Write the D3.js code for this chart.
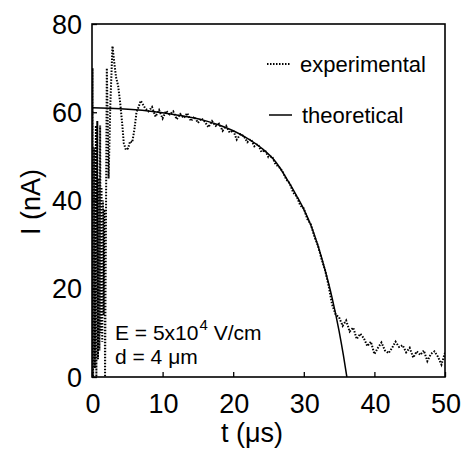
<!DOCTYPE html>
<html>
<head>
<meta charset="utf-8">
<script src="https://cdn.jsdelivr.net/npm/d3@7"></script>
<style>
  html, body { margin: 0; padding: 0; background: #fff; }
  svg text { font-family: "Liberation Sans", Arial, sans-serif; fill: #000; }
</style>
</head>
<body>
<svg id="chart" width="465" height="452"></svg>
<script>
// tick labels
const xTicks = [0, 10, 20, 30, 40, 50];
const yTicks = [0, 20, 40, 60, 80];

// theoretical transient current, t in µs, I in nA
const tTheory = [0, 4, 8, 12, 16, 18, 20, 22, 24, 26, 28, 29, 30, 31, 32, 33, 34, 35, 35.6, 36.1];
const iTheory = [61, 60.8, 60.3, 59.4, 58.1, 57.1, 55.8, 54.1, 51.9, 48.8, 43.8, 41, 38, 34.4, 29.8, 24.3, 18, 10.4, 5, 0];

// experimental trace
const tExp = [
  0, 0.08, 0.16, 0.3, 0.4, 0.55, 0.62, 0.75, 0.85, 0.95, 1.05, 1.15, 1.25, 1.35, 1.45, 1.55, 1.65, 1.75, 1.85,
  2.1, 2.35, 2.6, 2.9, 3.1, 3.4, 3.7, 4.0, 4.3, 4.5, 4.8, 5.1, 5.4, 5.7, 6.0, 6.3, 6.6, 6.9, 7.2,
  7.5, 8, 8.5, 9, 9.5, 10, 10.5, 11, 11.5, 12, 12.5, 13, 13.5, 14, 14.5, 15, 15.5, 16, 16.5, 17, 17.5,
  18, 18.5, 19, 19.5, 20, 20.5, 21, 21.5, 22, 22.5, 23, 23.5, 24, 24.5, 25, 25.5, 26, 26.5, 27, 27.5,
  28, 28.5, 29, 29.5, 30, 30.5, 31, 31.5, 32, 32.5, 33, 33.5, 34,
  34.5, 35, 35.5, 36, 36.5, 37, 37.5, 38, 38.5, 39, 39.5, 40, 40.5, 41, 41.5, 42, 42.5, 43, 43.5,
  44, 44.5, 45, 45.5, 46, 46.5, 47, 47.5, 48, 48.5, 49, 49.5, 50
];
const iExp = [
  0, 70, 0, 52, 2, 57, 0, 58, 4, 45, 6, 57, 10, 43, 8, 40, 14, 38, 0,
  70, 45, 62, 75, 72, 68, 66, 62, 57, 53, 51.5, 51.8, 53.4, 53.2, 56, 60, 61.2, 62.6, 61.8,
  61.0, 60.2, 61.2, 59.0, 60.5, 58.6, 60.3, 59.5, 60.2, 58.4, 59.6, 58.7, 59.8, 58.0, 59.0, 57.6, 58.6, 57.8, 56.6, 58.0, 56.9,
  57.4, 55.8, 56.9, 55.4, 55.9, 53.8, 55.0, 54.6, 53.2, 53.9, 52.3, 52.8, 51.0, 51.4, 49.8, 50.0, 48.2, 47.6, 46.6, 44.8,
  43.9, 41.8, 40.9, 38.9, 38.2, 35.8, 34.6, 31.8, 29.8, 26.8, 24.3, 20.8, 16.5,
  14.2, 13.5, 11.6, 12.8, 10.3, 11.2, 8.6, 9.8, 8.8, 7.0, 8.0, 5.2, 6.6, 7.8, 6.0, 5.4, 6.6, 8.0, 6.8,
  7.2, 5.6, 6.6, 4.4, 5.8, 5.0, 6.0, 3.6, 5.2, 5.8, 4.6, 2.8, 5.5
];

const svg = d3.select('#chart');
const x = d3.scaleLinear().domain([0, 50]).range([92, 445]);
const y = d3.scaleLinear().domain([0, 80]).range([377, 24]);

svg.append('defs').append('clipPath').attr('id', 'plot-clip')
  .append('rect')
  .attr('x', x(0)).attr('y', y(80))
  .attr('width', x(50) - x(0)).attr('height', y(0) - y(80));

const line = d3.line().x(d => x(d[0])).y(d => y(d[1]));
const expData = tExp.map((t, i) => [t, iExp[i]]);
const theoryData = tTheory.map((t, i) => [t, iTheory[i]]);

const plot = svg.append('g').attr('clip-path', 'url(#plot-clip)');

plot.append('path')
  .datum(expData)
  .attr('d', line)
  .attr('fill', 'none')
  .attr('stroke', '#000')
  .attr('stroke-width', 2)
  .attr('stroke-dasharray', '1.5,1.5');

plot.append('path')
  .datum(theoryData)
  .attr('d', line.curve(d3.curveMonotoneX))
  .attr('fill', 'none')
  .attr('stroke', '#000')
  .attr('stroke-width', 1.5);

// frame
svg.append('rect')
  .attr('x', x(0)).attr('y', y(80))
  .attr('width', x(50) - x(0)).attr('height', y(0) - y(80))
  .attr('fill', 'none')
  .attr('stroke', '#000')
  .attr('stroke-width', 1.6);

// inward ticks
const xAxis = svg.append('g')
  .attr('transform', `translate(0,${y(0)})`)
  .call(d3.axisTop(x).tickValues(xTicks).tickSize(5).tickFormat(''));
xAxis.select('.domain').remove();
xAxis.selectAll('line').attr('stroke-width', 1.3);

const yAxis = svg.append('g')
  .attr('transform', `translate(${x(0)},0)`)
  .call(d3.axisRight(y).tickValues(yTicks).tickSize(5).tickFormat(''));
yAxis.select('.domain').remove();
yAxis.selectAll('line').attr('stroke-width', 1.3);

// tick labels
svg.append('g').selectAll('text')
  .data(xTicks)
  .join('text')
  .attr('x', d => x(d) + 1)
  .attr('y', 413)
  .attr('text-anchor', 'middle')
  .style('font-size', '27px')
  .text(d => d);

svg.append('g').selectAll('text')
  .data(yTicks)
  .join('text')
  .attr('x', 82)
  .attr('y', d => y(d))
  .attr('dy', '0.36em')
  .attr('text-anchor', 'end')
  .style('font-size', '27px')
  .text(d => d);

// axis titles
svg.append('text')
  .attr('x', 252)
  .attr('y', 442)
  .attr('text-anchor', 'middle')
  .style('font-size', '27px')
  .text('t (μs)');

svg.append('text')
  .attr('transform', 'translate(40,202) rotate(-90)')
  .attr('text-anchor', 'middle')
  .style('font-size', '27px')
  .text('I (nA)');

// legend
svg.append('line')
  .attr('x1', 267).attr('x2', 290).attr('y1', 64).attr('y2', 64)
  .attr('stroke', '#000').attr('stroke-width', 2).attr('stroke-dasharray', '1.5,1.5');
svg.append('text').attr('x', 300).attr('y', 72).style('font-size', '22px').text('experimental');

svg.append('line')
  .attr('x1', 269).attr('x2', 292).attr('y1', 115).attr('y2', 115)
  .attr('stroke', '#000').attr('stroke-width', 1.5);
svg.append('text').attr('x', 302).attr('y', 123).style('font-size', '22px').text('theoretical');

// conditions, base text then superscript placed after it
const noteBase = svg.append('text').attr('x', 115).attr('y', 340).style('font-size', '21px').text('E = 5x10');
const baseEnd = 115 + noteBase.node().getComputedTextLength() + 1;
const sup = svg.append('text').attr('x', baseEnd).attr('y', 330).style('font-size', '15px').text('4');
const supEnd = baseEnd + sup.node().getComputedTextLength();
svg.append('text').attr('x', supEnd).attr('y', 340).style('font-size', '21px').text(' V/cm')
  .attr('xml:space', 'preserve').style('white-space', 'pre');

svg.append('text').attr('x', 115).attr('y', 364).style('font-size', '21px').text('d = 4 μm');
</script>
</body>
</html>
